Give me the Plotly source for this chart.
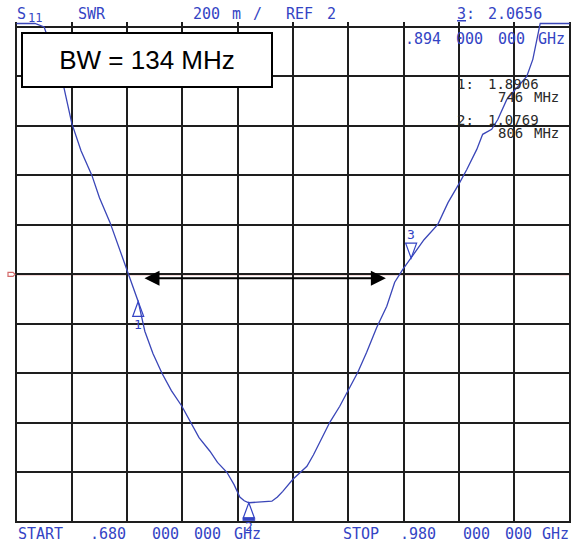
import numpy as np
import plotly.graph_objects as go

# ---------------- data ----------------
freq_mhz = [680, 690, 695, 700, 704.7, 710, 715, 720.9, 725, 730.7, 735, 740.4,
            746, 749.6, 754, 758.9, 764, 769.7, 774, 779, 784.9, 789, 794.1, 798,
            801.1, 803.5, 806, 810.4, 814, 818.5, 821.5, 824.4, 829.9, 834, 837.5,
            841, 844.5, 849.9, 855.3, 860.7, 865.1, 869.9, 875.4, 880.8, 885.1,
            889.5, 894, 901, 908.5, 914, 920.4, 924.2, 929.6, 932.8, 937.7, 941,
            945.9, 951.8, 956.7, 960, 962.5, 964, 970, 980]
swr = [3.35, 3.11, 3.00, 2.89, 2.79, 2.61, 2.50, 2.40, 2.31, 2.21, 2.12, 2.01,
       1.8906, 1.77, 1.68, 1.60, 1.53, 1.467, 1.406, 1.34, 1.285, 1.24, 1.20, 1.15,
       1.10, 1.085, 1.0769, 1.079, 1.081, 1.083, 1.10, 1.123, 1.172, 1.20, 1.224,
       1.27, 1.321, 1.402, 1.467, 1.543, 1.604, 1.685, 1.786, 1.871, 1.968,
       2.020, 2.0656, 2.14, 2.202, 2.29, 2.372, 2.424, 2.505, 2.566, 2.586, 2.626,
       2.707, 2.756, 2.800, 2.869, 2.97, 3.05, 3.2, 3.4]

marker_ids = ["1", "2", "3"]
marker_freq = [746, 806, 894]
marker_swr = [1.8906, 1.0769, 2.0656]

start_mhz, stop_mhz = 680, 980
ref_level = 2.0
scale_per_div = 0.2
x_ticks = list(range(680, 981, 30))
y_ticks = [round(1.0 + 0.2 * i, 1) for i in range(11)]

bw_text = "BW = 134 MHz"

# ---------------- geometry ----------------
W, H = 571, 542
ML, MR, MT, MB = 15, 0, 22, 19
PW, PH = W - ML - MR, H - MT - MB
XR = [679.2, 980.7]
YR = [0.995, 3.02]
clip_top = 3.014


def px(xp):
    return (xp - ML) / PW


def py(yp):
    return (H - MB - yp) / PH


BLUE = "#3444c4"
TRACE = "#3a46b8"
DARK = "#2a2a2a"
MONO = "DejaVu Sans Mono"

fig = go.Figure()
fig.add_trace(go.Scatter(
    x=freq_mhz, y=np.minimum(np.array(swr), clip_top),
    mode="lines", line=dict(color=TRACE, width=1.3), hoverinfo="skip"))

fig.update_layout(
    width=W, height=H, autosize=False,
    margin=dict(l=ML, r=MR, t=MT, b=MB, pad=0),
    paper_bgcolor="white", plot_bgcolor="white", showlegend=False,
    xaxis=dict(range=XR, tickvals=x_ticks, showticklabels=False, ticks="",
               showgrid=True, gridcolor="#1e1e1e", gridwidth=1.6,
               zeroline=False, showline=False, fixedrange=True),
    yaxis=dict(range=YR, tickvals=y_ticks, showticklabels=False, ticks="",
               showgrid=True, gridcolor="#1e1e1e", gridwidth=1.6,
               zeroline=False, showline=False, fixedrange=True),
)

shapes = []
# reference line
shapes.append(dict(type="line", xref="paper", x0=0, x1=1, yref="y",
                   y0=ref_level, y1=ref_level, layer="between",
                   line=dict(color="#d46a6a", width=2)))
# reference indicator at left
y_ref_paper = (ref_level - YR[0]) / (YR[1] - YR[0])
shapes.append(dict(type="path", xref="paper", yref="paper",
                   xsizemode="pixel", ysizemode="pixel",
                   xanchor=px(8), yanchor=y_ref_paper,
                   path="M0,-2 L5,-2 L7,0 L5,2 L0,2 Z",
                   line=dict(color="#d46a6a", width=1.2), fillcolor="rgba(0,0,0,0)"))
# markers
for mid, mf, ms in zip(marker_ids, marker_freq, marker_swr):
    if mid == "3":
        path = "M0,0 L-5.5,15 L5.5,15 Z"
    else:
        path = "M0,0 L-5.5,-15 L5.5,-15 Z"
    shapes.append(dict(type="path", xref="x", yref="y",
                       xsizemode="pixel", ysizemode="pixel",
                       xanchor=mf, yanchor=ms, path=path,
                       line=dict(color=BLUE, width=1.2), fillcolor="rgba(0,0,0,0)"))
    if mid == "2":
        shapes.append(dict(type="path", xref="x", yref="y",
                           xsizemode="pixel", ysizemode="pixel",
                           xanchor=mf, yanchor=ms,
                           path="M-6,-15 L6,-15 L6,-18 L-6,-18 Z",
                           line=dict(color=BLUE, width=0.5), fillcolor=BLUE))
fig.update_layout(shapes=shapes)

ann = []


def txt(s, x, y, color=BLUE, size=15, anchor="left", family=MONO):
    ann.append(dict(text=s, xref="paper", yref="paper", x=px(x), y=py(y),
                    xanchor=anchor, yanchor="middle", showarrow=False,
                    font=dict(family=family, size=size, color=color)))


# header
txt("S", 15, 14)
txt("11", 26, 18, size=12)
txt("SWR", 76, 14)
txt("200", 191, 14)
txt("m", 230, 14)
txt("/", 251, 14)
txt("REF", 284, 14)
txt("2", 325, 14)
txt("<u>3</u>:", 455, 14)
txt("2.0656", 486, 14)
# marker readouts
txt(".894", 403, 39)
txt("000", 454, 39)
txt("000", 496, 39)
txt("GHz", 536, 39)
txt("1:", 455, 84, color=DARK, size=14)
txt("1.8906", 486, 84, color=DARK, size=14)
txt("746", 496, 97, color=DARK, size=14)
txt("MHz", 532, 97, color=DARK, size=14)
txt("2:", 455, 120, color=DARK, size=14)
txt("1.0769", 486, 120, color=DARK, size=14)
txt("806", 496, 133, color=DARK, size=14)
txt("MHz", 532, 133, color=DARK, size=14)
# footer
fy = 534
txt("START", 16, fy)
txt(".680", 88, fy)
txt("000", 150, fy)
txt("000", 192, fy)
txt("GHz", 232, fy)
txt("STOP", 341, fy)
txt(".980", 398, fy)
txt("000", 461, fy)
txt("000", 503, fy)
txt("GHz", 540, fy)

# marker labels
label_shift = {"1": -23, "2": -24, "3": 24}
for mid, mf, ms in zip(marker_ids, marker_freq, marker_swr):
    ann.append(dict(text=mid, xref="x", yref="y", x=mf, y=ms, yshift=label_shift[mid],
                    xanchor="center", yanchor="middle", showarrow=False,
                    font=dict(family=MONO, size=13, color=BLUE)))

# BW box
ann.append(dict(text=bw_text, xref="paper", yref="paper", x=px(147), y=py(60),
                xanchor="center", yanchor="middle", showarrow=False,
                width=248, height=52, borderpad=0, borderwidth=2,
                bordercolor="black", bgcolor="white", align="center", valign="middle",
                font=dict(family="Liberation Sans", size=26, color="black")))

# double arrow
ann.append(dict(text="", xref="x", yref="y", axref="x", ayref="y",
                x=880.3, y=1.984, ax=748.6, ay=1.984,
                showarrow=True, arrowside="end+start", arrowhead=2,
                arrowsize=1.5, arrowwidth=2, arrowcolor="black"))

fig.update_layout(annotations=ann)

fig.write_html("out.html", config={"displayModeBar": False},
               post_script="document.body.style.margin='0';")
